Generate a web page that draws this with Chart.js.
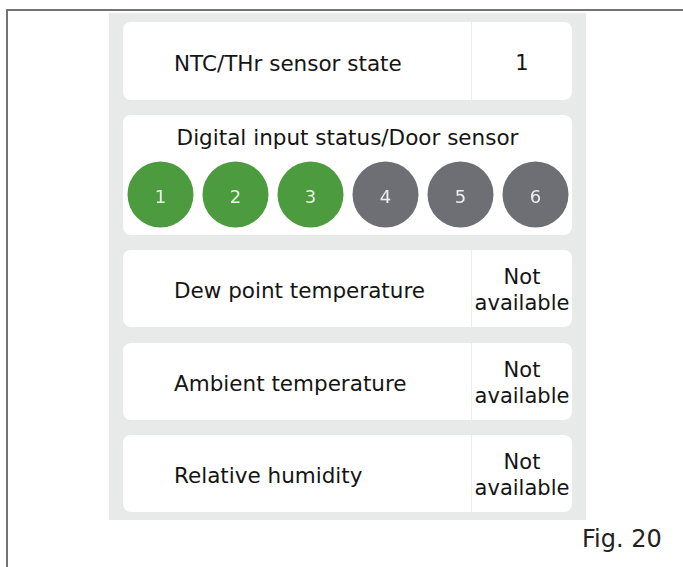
<!DOCTYPE html>
<html>
<head>
<meta charset="utf-8">
<script src="https://cdn.jsdelivr.net/npm/chart.js@4/dist/chart.umd.min.js"></script>
<style>
  html, body { margin: 0; padding: 0; background: #fff; }
  body { width: 683px; height: 567px; position: relative; overflow: hidden;
         font-family: "DejaVu Sans", Verdana, sans-serif; color: #141414; }
  .frame-top { position: absolute; left: 6px; top: 9px; width: 677px; height: 2px; background: #737373; }
  .frame-left { position: absolute; left: 6px; top: 9px; width: 2px; height: 558px; background: #737373; }
  .panel { position: absolute; left: 109px; top: 13px; width: 477px; height: 507px; background: #e8e9e9; }
  .card { position: absolute; left: 123px; width: 449px; background: #fff; border-radius: 8px; }
  .row .lab { position: absolute; left: 51px; top: 0; bottom: 0; display: flex; align-items: center; font-size: 21.5px; padding-top: 4px; box-sizing: border-box; }
  .row .div { position: absolute; left: 348px; top: 0; bottom: 0; width: 1px; background: #ededed; }
  .row .val { position: absolute; left: 349px; right: 0; top: 0; bottom: 0; display: flex; align-items: center; justify-content: center; text-align: center; font-size: 21px; line-height: 26px; padding-top: 3px; box-sizing: border-box; }
  .title { position: absolute; left: 0; right: 0; top: 10px; text-align: center; font-size: 21.5px; }
  #dio { position: absolute; left: 0; top: 44px; }
  .num { position: absolute; transform: translate(-50%, -50%); color: rgba(255,255,255,0.88); font-size: 18px; }
  .fig { position: absolute; left: 582px; top: 525px; font-size: 24px; color: #222; }
</style>
</head>
<body>
<div class="frame-top"></div>
<div class="frame-left"></div>
<div class="panel"></div>
<div id="cards"></div>
<div class="fig">Fig. 20</div>
<script>
// ---- data ----
const rowLabels = ["NTC/THr sensor state", "Dew point temperature", "Ambient temperature", "Relative humidity"];
const rowValues = ["1", "Not<br>available", "Not<br>available", "Not<br>available"];
const inputTitle = "Digital input status/Door sensor";
const inputNumbers = [1, 2, 3, 4, 5, 6];
const inputStates = [1, 1, 1, 0, 0, 0];   // 1 = active (green), 0 = inactive (grey)

// ---- layout ----
const cards = document.getElementById('cards');
function makeRow(top, h, label, value) {
  const c = document.createElement('div');
  c.className = 'card row';
  c.style.top = top + 'px'; c.style.height = h + 'px';
  c.innerHTML = '<div class="lab">' + label + '</div><div class="div"></div><div class="val">' + value + '</div>';
  cards.appendChild(c);
}
makeRow(22, 78, rowLabels[0], rowValues[0]);

const dcard = document.createElement('div');
dcard.className = 'card';
dcard.style.top = '115px'; dcard.style.height = '120px';
dcard.innerHTML = '<div class="title">' + inputTitle + '</div><canvas id="dio" width="450" height="71"></canvas><div id="nums"></div>';
cards.appendChild(dcard);

makeRow(250, 77, rowLabels[1], rowValues[1]);
makeRow(343, 77, rowLabels[2], rowValues[2]);
makeRow(435, 77, rowLabels[3], rowValues[3]);

const green = '#4c9b3e', grey = '#6e6f74';
const numPlugin = {
  id: 'nums',
  afterRender(chart) {
    const box = document.getElementById('nums');
    if (box.childElementCount) return;
    const meta = chart.getDatasetMeta(0);
    const cv = chart.canvas;
    meta.data.forEach((pt, i) => {
      const s = document.createElement('span');
      s.className = 'num';
      s.textContent = inputNumbers[i];
      s.style.left = (cv.offsetLeft + pt.x) + 'px';
      s.style.top = (cv.offsetTop + pt.y + 1) + 'px';
      box.appendChild(s);
    });
  }
};

new Chart(document.getElementById('dio'), {
  type: 'scatter',
  data: {
    datasets: [{
      data: inputNumbers.map(n => ({ x: n, y: 1 })),
      pointRadius: 33,
      pointHoverRadius: 33,
      pointBackgroundColor: inputStates.map(s => s ? green : grey),
      pointBorderColor: inputStates.map(s => s ? green : grey),
      pointBorderWidth: 0,
      clip: false
    }]
  },
  options: {
    responsive: false,
    animation: false,
    devicePixelRatio: 1,
    events: [],
    layout: { padding: 0, autoPadding: false },
    plugins: { legend: { display: false }, tooltip: { enabled: false } },
    scales: {
      x: { type: 'linear', min: 0.5, max: 6.5, display: false },
      y: { type: 'linear', min: 0, max: 2, display: false }
    }
  },
  plugins: [numPlugin]
});
</script>
</body>
</html>
